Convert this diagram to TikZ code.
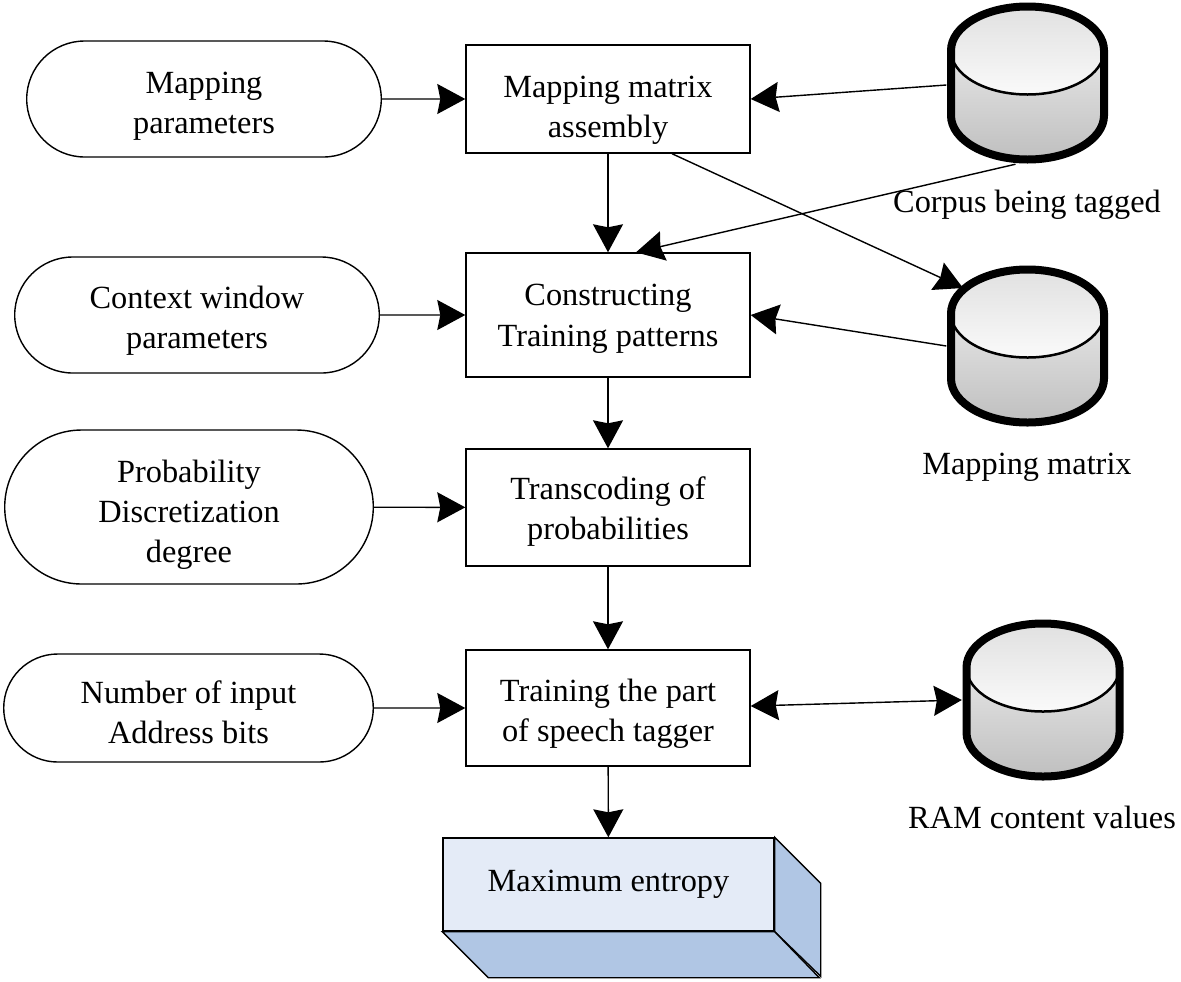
\documentclass[tikz,border=0pt]{standalone}
\usepackage{fontspec}
\setmainfont{Liberation Serif}
\usepackage{tikz}
\usetikzlibrary{arrows.meta,shapes.misc}
\definecolor{blockfront}{HTML}{E4EBF7}
\definecolor{blockside}{HTML}{B0C6E4}

\begin{document}
\begin{tikzpicture}[
    stage/.style={draw, align=center, minimum width=2.84cm, font=\fontsize{9.2}{11.4}\selectfont},
    param/.style={draw, rounded rectangle, align=center, font=\fontsize{9.2}{11.4}\selectfont},
    caption/.style={align=center, font=\fontsize{9.2}{11.4}\selectfont},
    store/.style={minimum width=1.61cm, minimum height=1.61cm, inner sep=0pt},
    arrow/.style={-{Stealth[length=0.28cm, width=0.3cm, inset=0.03cm]}},
    twoway/.style={{Stealth[length=0.28cm, width=0.3cm, inset=0.03cm]}-{Stealth[length=0.28cm, width=0.3cm, inset=0.03cm]}}
]
\useasboundingbox (0,0) rectangle (11.81,-9.81);

\node[param, text height=0.76cm, minimum width=3.78cm, minimum height=1.16cm] at (2.04,-0.99) (mapparam) {Mapping\\parameters};
\node[param, text height=0.74cm, minimum width=3.88cm, minimum height=1.16cm] at (1.97,-3.15) (windowparam) {Context window\\parameters};
\node[param, text height=1.18cm, minimum width=3.92cm, minimum height=1.54cm] at (1.89,-5.07) (probparam) {Probability\\Discretization\\degree};
\node[param, text height=0.72cm, minimum width=3.93cm, minimum height=1.08cm] at (1.885,-7.08) (bitsparam) {Number of input\\Address bits};

\node[stage, inner ysep=0pt, text height=0.84cm, minimum height=1.08cm] at (6.08,-0.99) (assembly) {Mapping matrix\\assembly};
\node[stage, text height=0.69cm, minimum height=1.24cm] at (6.08,-3.15) (patterns) {Constructing\\Training patterns};
\node[stage, text height=0.71cm, minimum height=1.17cm] at (6.08,-5.075) (transcode) {Transcoding of\\probabilities};
\node[stage, text height=0.74cm, minimum height=1.16cm] at (6.08,-7.08) (training) {Training the part\\of speech tagger};

% solid block at the bottom
\node[stage, fill=blockfront, minimum width=3.31cm, minimum height=0.93cm] at (6.085,-8.845) (entropy) {Maximum entropy};
\draw[fill=blockside] (entropy.north east) -- ++(0.46,-0.46) -- ++(0,-0.93) -- (entropy.south east) -- cycle;
\draw[fill=blockside] (entropy.south west) -- ++(0.46,-0.46) -- ++(3.31,0) -- (entropy.south east) -- cycle;

% the three data stores
\foreach \name/\x/\y in {corpus/10.275/-0.83, matrixdb/10.275/-3.46, ramdb/10.43/-7.00} {
    \node[store] at (\x,\y) (\name) {};
    \begin{scope}[shift={(\x,\y)}]
        \shade[top color=black!10, bottom color=black!25] (-0.765,0.325) -- (-0.765,-0.325) arc[start angle=180, end angle=360, x radius=0.765, y radius=0.44] -- (0.765,0.325) -- cycle;
        \shade[top color=black!12, bottom color=black!2] (0,0.325) ellipse[x radius=0.765, y radius=0.44];
        \draw[line width=0.025cm] (-0.765,0.325) arc[start angle=180, end angle=360, x radius=0.765, y radius=0.44];
        \draw[line width=0.08cm] (-0.765,0.325) arc[start angle=180, end angle=0, x radius=0.765, y radius=0.44] -- (0.765,-0.325) arc[start angle=360, end angle=180, x radius=0.765, y radius=0.44] -- cycle;
    \end{scope}
}

\node[caption] at (10.27,-2.05) (corpuslabel) {Corpus being tagged};
\node[caption] at (10.27,-4.67) (matrixlabel) {Mapping matrix};
\node[caption] at (10.42,-8.17) (ramlabel) {RAM content values};

\draw[arrow] (mapparam) -- (assembly);
\draw[arrow] (windowparam) -- (patterns);
\draw[arrow] (probparam) -- (transcode);
\draw[arrow] (bitsparam) -- (training);

\draw[arrow] (assembly) -- (patterns);
\draw[arrow] (patterns) -- (transcode);
\draw[arrow] (transcode) -- (training);
\draw[arrow] (training) -- (entropy);

\draw[arrow] ([yshift=-0.02cm]corpus.west) -- (assembly.east);
\draw[arrow] ([xshift=-0.12cm]corpus.south) -- ([xshift=0.28cm]patterns.north);
\draw[arrow] ([xshift=0.64cm]assembly.south) -- ([shift={(-0.645,0.58)}]matrixdb.center);
\draw[arrow] (matrixdb.west) -- (patterns.east);
\draw[twoway] ([yshift=0.02cm]training.east) -- (ramdb.west);
\end{tikzpicture}
\end{document}
